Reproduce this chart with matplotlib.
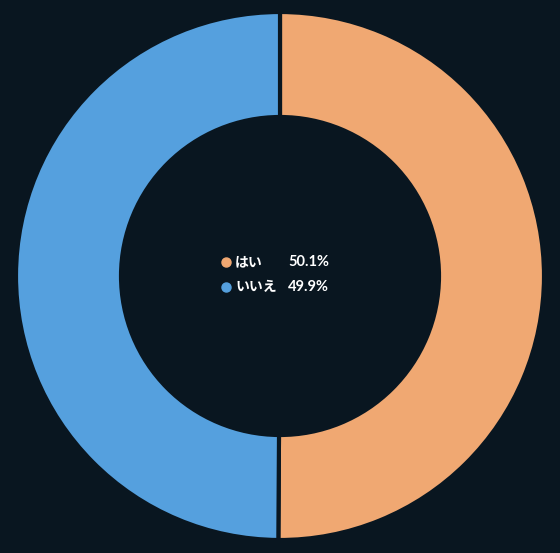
import matplotlib.pyplot as plt

plt.rcParams['font.family'] = ['Noto Sans CJK JP', 'DejaVu Sans']

# Data
labels = ['はい', 'いいえ']
shares = [50.1, 49.9]
colors = ['#F0A872', '#55A0DE']
bg = '#091620'

fig = plt.figure(figsize=(5.6, 5.53), dpi=100)
fig.patch.set_facecolor(bg)
ax = fig.add_axes([0, 0, 1, 1])
ax.set_facecolor(bg)

# Donut, clockwise from the top
ax.pie(shares, colors=colors, startangle=90, counterclock=False,
       center=(280, 553 - 276), radius=264,
       wedgeprops=dict(width=105, edgecolor=bg, linewidth=3))

ax.set_xlim(0, 560)
ax.set_ylim(0, 553)
ax.set_aspect('equal')
ax.axis('off')

# Legend in the middle
for i, (lab, val, col) in enumerate(zip(labels, shares, colors)):
    y = 553 - (262 + 25 * i)
    ax.plot(226, y, 'o', color=col, markersize=6.5)
    ax.text(235, y, lab, color='white', fontsize=10, fontweight='bold',
            ha='left', va='center')
    ax.text(329, y, f'{val:.1f}%', color='white', fontsize=10.5,
            fontweight='bold', family='Lato', ha='right', va='center')

plt.savefig('out.png', dpi=100, facecolor=bg)
